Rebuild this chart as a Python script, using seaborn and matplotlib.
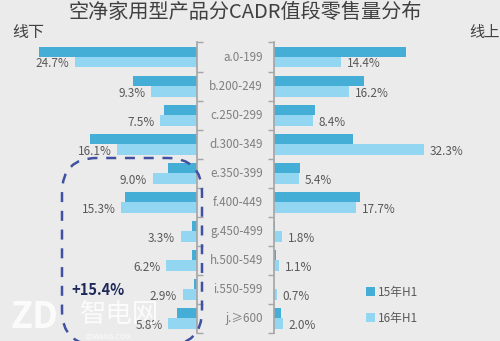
import matplotlib
matplotlib.use("Agg")
import matplotlib.pyplot as plt
import seaborn as sns
import pandas as pd
import numpy as np
from matplotlib.patches import FancyBboxPatch

sns.set_theme(style="white")
plt.rcParams['font.family'] = ['Noto Sans CJK SC', 'DejaVu Sans']

categories = ["a.0-199", "b.200-249", "c.250-299", "d.300-349", "e.350-399",
              "f.400-449", "g.450-499", "h.500-549", "i.550-599", "j.≥600"]
series = ["15年H1", "16年H1"]
offline_15 = [32.0, 13.0, 6.7, 21.7, 5.9, 14.6, 1.0, 1.0, 0.6, 4.0]
offline_16 = [24.7, 9.3, 7.5, 16.1, 9.0, 15.3, 3.3, 6.2, 2.9, 5.8]
online_15 = [28.3, 19.4, 8.8, 17.0, 5.6, 18.5, 0.3, 0.5, 0.1, 1.4]
online_16 = [14.4, 16.2, 8.4, 32.3, 5.4, 17.7, 1.8, 1.1, 0.7, 2.0]

title = "空净家用型产品分CADR值段零售量分布"
left_label = "线下"
right_label = "线上"
highlight = "+15.4%"

colors = ["#45aed6", "#93d6f2"]
BG = "#ebebeb"

W, H = 500, 341
fig = plt.figure(figsize=(5, 3.41), dpi=100, facecolor=BG)

def frac(x0, y0, x1, y1):
    return [x0 / W, 1 - y1 / H, (x1 - x0) / W, (y1 - y0) / H]

def long_df(v15, v16):
    return pd.DataFrame({
        "cat": categories * 2,
        "series": [series[0]] * len(categories) + [series[1]] * len(categories),
        "val": list(v15) + list(v16),
    })

axL = fig.add_axes(frac(10, 42.5, 197, 333))
axR = fig.add_axes(frac(274, 42.5, 495, 333))

for ax, v15, v16, xmax in [(axL, offline_15, offline_16, 187 / 4.94),
                           (axR, online_15, online_16, 221 / 4.65)]:
    sns.barplot(data=long_df(v15, v16), y="cat", x="val", hue="series",
                palette=colors, orient="h", width=0.72, saturation=1,
                ax=ax, legend=(ax is axR), linewidth=0)
    ax.set_facecolor("none")
    ax.set_xlim(0, xmax)
    ax.set_ylim(len(categories) - 0.5, -0.5)
    ax.set_xlabel("")
    ax.set_ylabel("")
    ax.set_xticks([])
    ax.set_yticks([])
    ax.set_yticks(np.arange(-0.5, len(categories), 1), minor=True)
    for s in ax.spines.values():
        s.set_visible(False)

axL.invert_xaxis()
axL.spines["right"].set_visible(True)
axL.spines["right"].set_color("#a6a6a6")
axL.yaxis.tick_right()
axL.tick_params(axis="y", which="minor", right=True, left=False, length=4,
                color="#a6a6a6", direction="out")
axR.spines["left"].set_visible(True)
axR.spines["left"].set_color("#a6a6a6")
axR.tick_params(axis="y", which="minor", left=True, length=4,
                color="#a6a6a6", direction="out")

# value labels for 16年H1 bars
for ax, v16, ha, sign in [(axL, offline_16, "right", -1), (axR, online_16, "left", 1)]:
    cont = ax.containers[1]
    for bar, v in zip(cont, v16):
        yc = bar.get_y() + bar.get_height() / 2 + 0.06
        ax.annotate(f"{v:.1f}%", xy=(v, yc), xytext=(sign * 4, 0),
                    textcoords="offset points", ha=ha, va="center",
                    fontsize=8.5, color="#595959")

# category labels in the middle
for i, c in enumerate(categories):
    ya = axR.transData.transform((0, i))
    yf = fig.transFigure.inverted().transform(ya)[1]
    fig.text(263 / W, yf, c, ha="right", va="center", fontsize=8.4, color="#7f7f7f")

# legend
leg = axR.legend(loc="upper left", bbox_to_anchor=(0.37, 0.2), frameon=False,
                 fontsize=8.5, handlelength=0.7, handleheight=0.7,
                 labelspacing=1.1, handletextpad=0.3)
for t in leg.get_texts():
    t.set_color("#595959")

fig.text(245 / W, 1 - 12 / H, title, ha="center", va="center", fontsize=14.5, color="#404040")
fig.text(12 / W, 1 - 32 / H, left_label, ha="left", va="center", fontsize=11.5, color="#404040")
fig.text(469 / W, 1 - 32 / H, right_label, ha="left", va="center", fontsize=11, color="#404040")

# dashed highlight box
box = FancyBboxPatch((62 / W, 1 - 345 / H), (202 - 62) / W, (345 - 158) / H,
                     boxstyle="round,pad=0,rounding_size=0.07",
                     transform=fig.transFigure, fill=False, edgecolor="#3f51a0",
                     linewidth=1.8, linestyle=(0, (4, 3.5)), mutation_aspect=W / H)
fig.add_artist(box)
fig.text(98 / W, 1 - 290 / H, highlight, ha="center", va="center", fontsize=10.5,
         fontweight="bold", color="#1f2a5a")

# watermark
fig.text(34 / W, 1 - 318 / H, "ZD", ha="center", va="center", fontsize=26,
         fontweight="bold", color="white", alpha=0.85)
fig.text(120 / W, 1 - 315 / H, "智电网", ha="center", va="center", fontsize=19,
         color="white", alpha=0.85)
fig.text(108 / W, 1 - 337 / H, "ZOWANG.COM", ha="center", va="center", fontsize=5,
         color="white", alpha=0.85)

fig.savefig("out.png", dpi=100, facecolor=BG)
